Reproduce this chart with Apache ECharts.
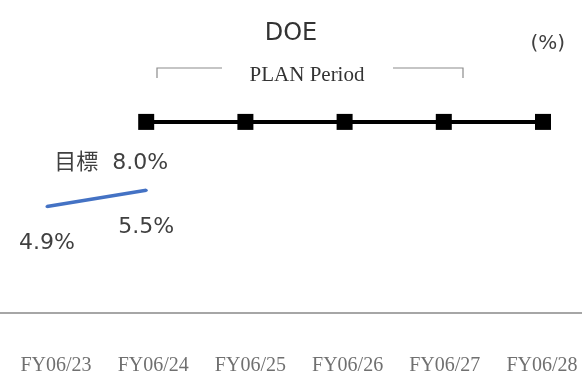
<!DOCTYPE html>
<html>
<head>
<meta charset="utf-8">
<script src="https://cdn.jsdelivr.net/npm/echarts@6/dist/echarts.min.js"></script>
<style>
  html, body { margin: 0; padding: 0; background: #fff; }
  #chart { width: 582px; height: 376px; }
</style>
</head>
<body>
<div id="chart"></div>
<script>
// Fiscal years on the category axis
const years = ['FY06/23', 'FY06/24', 'FY06/25', 'FY06/26', 'FY06/27', 'FY06/28'];
// Actual DOE (%)
const actualDoe = [4.9, 5.5, null, null, null, null];
// Target DOE over the plan period (%)
const targetDoe = [null, 8.0, 8.0, 8.0, 8.0, 8.0];

const serifFont = '"Liberation Serif", "DejaVu Serif", serif';
const sansFont = '"DejaVu Sans", "Noto Sans CJK JP", sans-serif';

const chart = echarts.init(document.getElementById('chart'), null, { renderer: 'canvas' });

const gridBottom = 63;

chart.setOption({
  animation: false,
  backgroundColor: '#ffffff',
  title: [
    {
      text: 'DOE',
      left: 'center',
      top: 17,
      textStyle: { fontFamily: sansFont, fontSize: 24, fontWeight: 'normal', color: '#333333' }
    },
    {
      text: '(%)',
      right: 12,
      top: 29,
      textStyle: { fontFamily: sansFont, fontSize: 20, fontWeight: 'normal', color: '#404040' }
    }
  ],
  grid: [
    // plotting area for the lines
    { left: 47, right: 39, top: 40, bottom: gridBottom },
    // year captions along the base
    { left: 56, right: 40, top: 40, bottom: gridBottom }
  ],
  xAxis: [
    {
      type: 'category',
      gridIndex: 0,
      data: years,
      boundaryGap: false,
      axisLine: { show: false },
      axisTick: { show: false },
      axisLabel: { show: false }
    },
    {
      type: 'category',
      gridIndex: 1,
      data: years,
      boundaryGap: false,
      axisLine: { show: false },
      axisTick: { show: false },
      axisLabel: {
        margin: 45,
        fontFamily: serifFont,
        fontSize: 20,
        color: '#707070'
      }
    }
  ],
  yAxis: [
    { type: 'value', gridIndex: 0, min: 1, max: 11, show: false },
    { type: 'value', gridIndex: 1, min: 1, max: 11, show: false }
  ],
  graphic: [
    // baseline running across the full width
    {
      type: 'line',
      shape: { x1: 0, y1: 376 - gridBottom, x2: 582, y2: 376 - gridBottom },
      style: { stroke: '#a6a6a6', lineWidth: 2 }
    },
    // plan period bracket
    {
      type: 'polyline',
      shape: { points: [[157, 78], [157, 68], [222, 68]] },
      style: { stroke: '#8c8c8c', lineWidth: 1.2, fill: null }
    },
    {
      type: 'polyline',
      shape: { points: [[393, 68], [463, 68], [463, 78]] },
      style: { stroke: '#8c8c8c', lineWidth: 1.2, fill: null }
    },
    {
      type: 'text',
      x: 307,
      y: 75,
      style: {
        text: 'PLAN Period',
        fontFamily: serifFont,
        fontSize: 21,
        fill: '#333333',
        align: 'center',
        verticalAlign: 'middle'
      }
    }
  ],
  series: [
    {
      name: '実績',
      type: 'line',
      xAxisIndex: 0,
      yAxisIndex: 0,
      data: actualDoe,
      connectNulls: false,
      showSymbol: true,
      symbol: 'circle',
      symbolSize: 3,
      itemStyle: { color: '#4472c4' },
      lineStyle: { color: '#4472c4', width: 3.5 },
      label: {
        show: true,
        position: 'inside',
        offset: [0, 37],
        formatter: p => p.value.toFixed(1) + '%',
        fontFamily: sansFont,
        fontSize: 22,
        color: '#404040'
      }
    },
    {
      name: '目標',
      type: 'line',
      xAxisIndex: 0,
      yAxisIndex: 0,
      data: targetDoe,
      symbol: 'rect',
      symbolSize: 16,
      itemStyle: { color: '#000000' },
      lineStyle: { color: '#000000', width: 4 },
      label: {
        show: true,
        position: 'inside',
        offset: [-35, 41],
        fontFamily: sansFont,
        fontSize: 22,
        color: '#404040',
        formatter: p => (p.dataIndex === 1 ? '目標  ' + p.value.toFixed(1) + '%' : '')
      }
    }
  ]
});
</script>
</body>
</html>
